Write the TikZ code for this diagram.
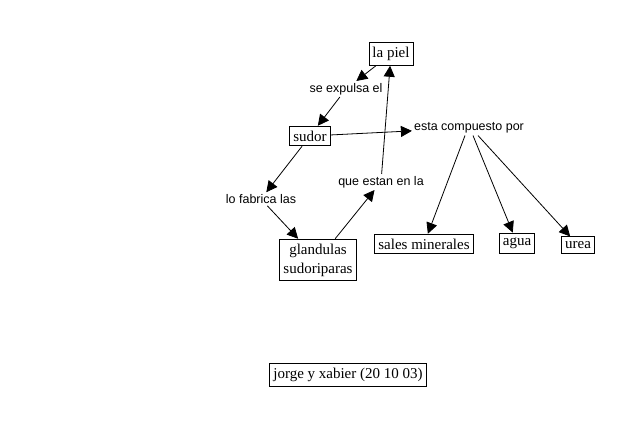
\documentclass[tikz,border=0pt]{standalone}
\usepackage{fontspec}
\setmainfont{Liberation Serif}
\setsansfont{Liberation Sans}
\usetikzlibrary{arrows.meta}
\begin{document}
\begin{tikzpicture}[x=1pt,y=-1pt,
  concept/.style={draw,line width=0.9pt,font=\rmfamily\fontsize{15}{19}\selectfont,inner xsep=3.5pt,inner ysep=4.5pt,align=center},
  linklbl/.style={font=\sffamily\fontsize{12.5}{14}\selectfont,inner sep=2pt},
  conn/.style={line width=0.8pt,-{Triangle[length=11pt,width=11pt]}}]
\useasboundingbox (0,0) rectangle (635,428);
\node[concept] (piel) at (391,54) {la piel};
\node[concept] (sudor) at (310,136) {sudor};
\node[concept] (gland) at (318,260) {glandulas\\sudoriparas};
\node[concept] (sales) at (424,244) {sales minerales};
\node[concept] (agua) at (517,243) {agua};
\node[concept] (urea) at (578,245) {urea};
\node[concept] (autor) at (348,375) {jorge y xabier (20 10 03)};
\node[linklbl] (expulsa) at (346,89) {se expulsa el};
\node[linklbl] (compuesto) at (469,128) {esta compuesto por};
\node[linklbl] (fabrica) at (261,199) {lo fabrica las};
\node[linklbl] (estan) at (381,182) {que estan en la};
\draw[conn] (piel) -- (expulsa);
\draw[conn] (expulsa) -- (sudor);
\draw[conn] (sudor) -- (compuesto);
\draw[conn] (sudor) -- (fabrica);
\draw[conn] (fabrica) -- (gland);
\draw[conn] (gland) -- (estan);
\draw[conn] (estan) -- (piel);
\draw[conn] (compuesto.south -| 465,0) -- (sales);
\draw[conn] (compuesto.south -| 473,0) -- (agua);
\draw[conn] (compuesto.south -| 478,0) -- (urea);
\end{tikzpicture}
\end{document}
